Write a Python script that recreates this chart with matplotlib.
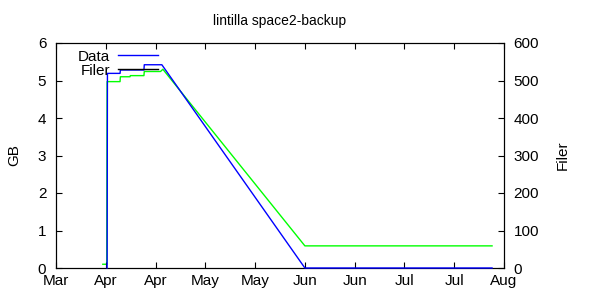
import matplotlib
matplotlib.use("Agg")
import matplotlib.pyplot as plt
from matplotlib.lines import Line2D

plt.rcParams['font.family'] = ['Liberation Sans', 'DejaVu Sans']

# days since start of axis (ticks every 15 days)
tick_days = [0, 15, 30, 45, 60, 75, 90, 105, 120, 135]
tick_labels = ["Mar", "Apr", "Apr", "May", "May", "Jun", "Jun", "Jul", "Jul", "Aug"]

data_days = [15.4, 15.5, 19.3, 19.4, 26.5, 26.6, 31.9, 75.0, 131.4]
data_gb = [0, 5.19, 5.19, 5.28, 5.28, 5.42, 5.42, 0, 0]

filer_days = [14.1, 15.3, 15.4, 19.3, 19.4, 22.3, 22.4, 26.5, 26.6, 31.5, 32.2, 75.0, 131.4]
filer_n = [10, 10, 497, 497, 510, 510, 513, 513, 524, 524, 530, 59, 59]

fig = plt.figure(figsize=(6, 3), dpi=100)
ax = fig.add_axes([56/600, 1-268/300, 448/600, 225/300])
ax2 = ax.twinx()

ax2.plot(filer_days, filer_n, color="#00ff00", lw=1)
ax.plot(data_days, data_gb, color="#0000ff", lw=1, clip_on=False, zorder=5)
ax.set_zorder(ax2.get_zorder() + 1)
ax.patch.set_visible(False)

ax.set_xlim(0, 135)
ax.set_ylim(0, 6)
ax2.set_ylim(0, 600)
ax.set_xticks(tick_days)
ax.set_xticklabels(tick_labels)
ax.set_yticks(range(0, 7))
ax2.set_yticks(range(0, 601, 100))

fs = 11
ax.tick_params(axis='x', direction='in', top=True, length=4, labelsize=fs, pad=4)
ax.tick_params(axis='y', direction='in', length=4, labelsize=fs, pad=7)
ax2.tick_params(axis='y', direction='in', length=4, labelsize=fs, pad=7)

ax.set_ylabel("GB", fontsize=fs, labelpad=12)
ax2.set_ylabel("Filer", fontsize=fs, labelpad=12)
ax.set_title("lintilla space2-backup", fontsize=10, pad=13)

handles = [Line2D([], [], color="#0000ff", lw=1),
           Line2D([], [], color="black", lw=1)]
ax.legend(handles, ["Data", "Filer"], loc="upper right", bbox_to_anchor=(102/448, 0.97),
          frameon=False, markerfirst=False, handlelength=2.65, handletextpad=0.5,
          labelspacing=0.0, borderpad=0, borderaxespad=0, fontsize=fs)

fig.savefig("out.png", dpi=100)
